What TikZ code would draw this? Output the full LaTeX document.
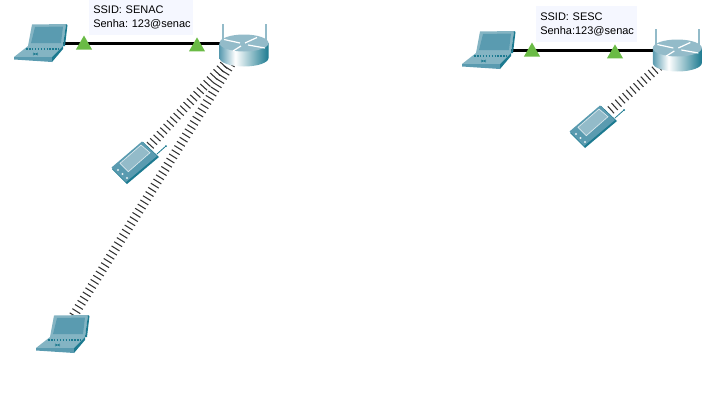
\documentclass[tikz,border=0pt]{standalone}
\usepackage{fontspec}
\setmainfont{Liberation Sans}
\usetikzlibrary{shapes.geometric}
\definecolor{tealdark}{HTML}{1C7A90}
\definecolor{tealmid}{HTML}{5A9BB0}
\definecolor{teallight}{HTML}{84B4C3}
\definecolor{tealpale}{HTML}{93BBC9}
\definecolor{linkgreen}{HTML}{6ABB45}
\definecolor{noteblue}{HTML}{F5F7FF}
\pgfdeclarehorizontalshading{routerwall}{100bp}{
    color(0bp)=(tealmid); color(25bp)=(tealmid); color(41bp)=(white);
    color(75bp)=(tealdark); color(100bp)=(tealdark)}
\tikzstyle{spot} = [coordinate]
\tikzstyle{cable} = [draw, black, line width=2.25pt]
\tikzstyle{wireless} = [draw, black!80, line width=7pt, dash pattern=on 0.8pt off 2.9pt]
\tikzstyle{linkup} = [fill=linkgreen, regular polygon, regular polygon sides=3,
    inner sep=0pt, minimum size=14pt, yshift=-1.4pt]
\tikzstyle{note} = [fill=noteblue, align=left, inner xsep=3pt, inner ysep=0pt,
    font=\fontsize{8.25pt}{10.5pt}\selectfont\frenchspacing]
\tikzset{
  laptopicon/.pic={
    % screen
    \fill [teallight] (-8,-18.5) -- (26,-19) -- (23,3) -- (-12,3) -- cycle;
    \fill [tealdark] (26,-19) -- (27.5,-18) -- (25,3) -- (23,3) -- cycle;
    \fill [tealmid] (-5,-16) -- (23,-16.5) -- (21,0) -- (-9,0) -- cycle;
    % base
    \fill [teallight] (-12,3) -- (23,3) -- (12,14) -- (-26,14) -- cycle;
    \fill [tealmid] (-26,14) -- (12,14) -- (12,19) -- (-26,16.5) -- cycle;
    \fill [tealdark] (12,14) -- (23,3) -- (23,6) -- (12,19) -- cycle;
    % keys
    \draw [tealdark, line width=1.2pt, densely dotted] (-14,6) -- (19,6);
    \draw [tealdark, line width=.5pt] (-7,10) -- (-2,12) (-7,12) -- (-2,10);
  },
  routericon/.pic={
    % antennas
    \draw [tealpale, line width=1.6pt] (-21,-19) -- (-21,0) (22,-19) -- (22,0);
    % body
    \path [shading=routerwall] (-24.5,0) -- (-24.5,15)
        arc [start angle=180, end angle=0, x radius=24.5, y radius=8.5]
        -- (24.5,0) -- cycle;
    \fill [tealpale] (0,0) ellipse [x radius=24.5, y radius=8.5];
    % arrows
    \draw [white, line width=.9pt] (-20,-3.5) -- (-4,0);
    \draw [white, line width=.9pt] (1,0) -- (13,-5.5);
    \draw [white, line width=.9pt] (-3,3) -- (-11,8);
    \draw [white, line width=.9pt] (4,2) -- (21,5);
  },
  tableticon/.pic={
    % antenna
    \draw [tealdark, line width=.6pt] (22,-8) -- (31,-16);
    \fill [tealdark] (31,-16) circle (1);
    % case
    \fill [tealdark] (8,-20) -- (24,-5) -- (-8,22) -- (-23,7) -- cycle;
    \fill [tealmid] (7,-20.5) -- (22,-6) -- (-9,20) -- (-23.5,5.5) -- cycle;
    % display
    \fill [tealpale, draw=white!70!teallight, line width=.5pt]
        (6,-17) -- (15,-9.3) -- (-6.7,9.7) -- (-15,1.3) -- cycle;
    % buttons
    \foreach \bx/\by in {-17/8, -12.5/12, -8/16}
        \fill [white!80!teallight] (\bx,\by) circle (1.1);
  }
}

\begin{document}
\begin{tikzpicture}[x=0.75pt, y=-0.75pt, auto]
    \useasboundingbox (0,0) rectangle (714,400);

    % % % % % % % % % % % % % % % % % % % % % % %
    % SENAC network
    % % % % % % % % % % % % % % % % % % % % % % %
    \node [spot] at (40,43) (laptopa) {};
    \node [spot, right of=laptopa, node distance=153pt] (routera) {};
    \node [spot] at (135,162) (tableta) {};
    \node [spot] at (62,334) (laptopc) {};

    % Radio links go under the icons
    \draw [wireless] (routera) -- (tableta);
    \draw [wireless] (routera) -- (laptopc);

    \draw [cable] (laptopa) -- (routera);
    \node [linkup] at (84,43) (upa) {};
    \node [linkup, right of=upa, node distance=84.75pt] (upb) {};

    \pic at (laptopa) {laptopicon};
    \pic at (laptopc) {laptopicon};
    \pic at (routera) {routericon};
    \pic at (tableta) {tableticon};

    \node [note, anchor=north west, minimum height=26.25pt, text width=72pt]
        at (89,0) (notea) {SSID: SENAC\\\mbox{Senha: 123@senac}};

    % % % % % % % % % % % % % % % % % % % % % % %
    % SESC network
    % % % % % % % % % % % % % % % % % % % % % % %
    \node [spot] at (488,50) (laptopb) {};
    \node [spot, right of=laptopb, node distance=142pt] (routerb) {};
    \node [spot] at (593,126) (tabletb) {};

    \draw [wireless] (routerb) -- (tabletb);

    \draw [cable] (laptopb) -- (routerb);
    \node [linkup] at (532,50) (upc) {};
    \node [linkup, right of=upc, node distance=62.25pt] (upd) {};

    \pic at (laptopb) {laptopicon};
    \pic [yshift=1.5pt] at (routerb) {routericon};
    \pic at (tabletb) {tableticon};

    \node [note, anchor=north west, minimum height=27pt, text width=69.75pt]
        at (536,6) (noteb) {SSID: SESC\\\mbox{Senha:123@senac}};
\end{tikzpicture}
\end{document}
